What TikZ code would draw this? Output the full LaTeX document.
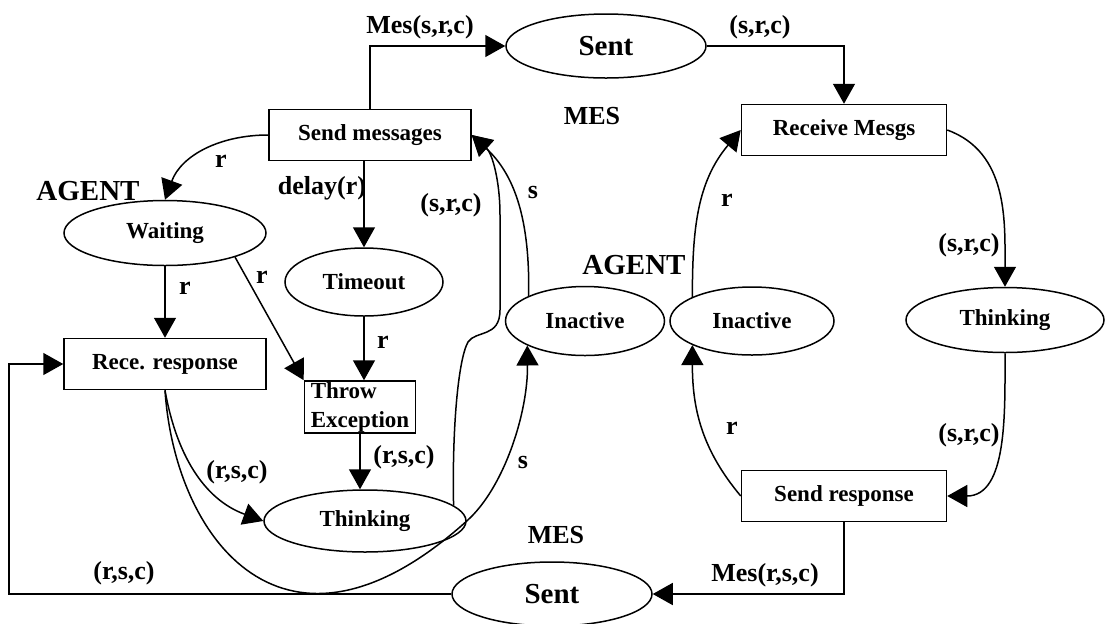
\documentclass[tikz,border=0pt]{standalone}
\usepackage{fontspec}
\setmainfont{Liberation Serif}
\usetikzlibrary{shapes.geometric,arrows.meta}

\begin{document}
\begin{tikzpicture}[x=0.5pt,y=0.5pt,line width=0.75pt,
  >={Triangle[length=10pt,width=11pt]},
  box/.style={draw,rectangle,inner sep=0pt,minimum width=101pt,minimum height=25.5pt,
    font=\fontsize{11.5}{13}\selectfont\bfseries},
  state/.style={draw,ellipse,inner sep=0pt,minimum width=101pt,minimum height=32.5pt,
    font=\fontsize{11.5}{13}\selectfont\bfseries},
  lbl/.style={inner sep=0pt,font=\fontsize{13}{15}\selectfont\bfseries},
  big/.style={inner sep=0pt,font=\fontsize{14.5}{16}\selectfont\bfseries}]
  \useasboundingbox (0,0) rectangle (1105,-623);

  % left agent
  \node[box] (sendmsg) at (370,-135) {Send messages};
  \node[state,minimum width=100pt,minimum height=32pt,font=\fontsize{14.5}{16}\selectfont\bfseries] (sentmsg) at (606,-46) {Sent};
  \node[state] (waiting) at (165,-233) {Waiting};
  \node[state,minimum width=79pt,minimum height=34pt] (timeout) at (364,-282) {Timeout};
  \node[box] (rece) at (165,-364) {Rece. response};
  \node[box,minimum width=55.5pt,minimum height=26pt,align=left,font=\fontsize{11.5}{14.5}\selectfont\bfseries] (throw) at (360,-407) {Throw\\Exception};
  \node[state,minimum height=31pt] (think1) at (365,-521) {Thinking};
  \node[state,minimum width=79.5pt,minimum height=34.5pt] (inact1) at (585,-321) {Inactive};

  % right agent
  \node[box,minimum width=102.5pt] (recvmsg) at (844,-130) {Receive Mesgs};
  \node[state,minimum width=82pt,minimum height=34pt] (inact2) at (752,-321) {Inactive};
  \node[state,minimum width=99pt] (think2) at (1005,-320) {Thinking};
  \node[box,minimum width=102.5pt] (sendresp) at (844,-496) {Send response};
  \node[state,minimum width=100pt,minimum height=32pt,font=\fontsize{14.5}{16}\selectfont\bfseries] (sentrsp) at (552,-594) {Sent};

  \node[big] (agent1) at (88,-191) {AGENT};
  \node[big] (agent2) at (634,-265) {AGENT};
  \node[lbl] (mes1) at (592,-116) {MES};
  \node[lbl] (mes2) at (556,-535) {MES};

  \coordinate (corner) at (9,-594);

  \draw[->] (sendmsg.north) |- (sentmsg.west);
  \node[lbl] at (420,-27) {Mes(s,r,c)};
  \draw[->] (sentmsg.east) -| (recvmsg.north);
  \node[lbl] at (760,-27) {(s,r,c)};
  \draw[->] (sendmsg.west) to[out=180,in=70] (waiting.north);
  \node[lbl] at (221,-161) {r};
  \draw[->] (timeout.north |- sendmsg.south) -- (timeout.north);
  \node[lbl] at (322,-188) {delay(r)};
  \draw[->] (waiting.south) -- (rece.north);
  \node[lbl] at (185,-288) {r};
  \draw[->] (waiting.-19) -- (throw.north west);
  \node[lbl] at (262,-277) {r};
  \draw[->] (timeout.south) -- (timeout.south |- throw.north);
  \node[lbl] at (383,-342) {r};
  \draw[->] (throw.south) -- (throw.south |- think1.north);
  \node[lbl] at (404,-457) {(r,s,c)};
  \draw[->] (rece.south) to[out=-80,in=160] (think1.west);
  \node[lbl] at (237,-472) {(r,s,c)};
  \draw[->] (rece.south) .. controls (175,-540) and (285,-685) .. (think1.east)
    .. controls (504,-488) and (528,-413) .. (inact1.-157);
  \node[lbl] at (523,-462) {s};
  \draw[->] (think1.10) .. controls (452,-430) and (458,-360) .. (468,-342)
    .. controls (476,-330) and (500,-338) .. (500,-310) -- (500,-215)
    .. controls (500,-180) and (492,-153) .. (sendmsg.east);
  \node[lbl] at (451,-205) {(s,r,c)};
  \draw[->] (inact1.156) .. controls (530,-220) and (515,-175) .. (sendmsg.east);
  \node[lbl] at (533,-192) {s};

  \draw[->] (inact2.158) to[out=90,in=-130] (recvmsg.west);
  \node[lbl] at (727,-200) {r};
  \draw[->] (recvmsg.east) to[out=-20,in=90] (think2.north);
  \node[lbl] at (969,-245) {(s,r,c)};
  \draw[->] (think2.south) to[out=-90,in=0] (sendresp.east);
  \node[lbl] at (969,-435) {(s,r,c)};
  \draw[->] (sendresp.west) to[out=130,in=-90] (inact2.-158);
  \node[lbl] at (732,-428) {r};
  \draw[->] (sendresp.south) |- (sentrsp.east);
  \node[lbl] at (765,-575) {Mes(r,s,c)};
  \draw[->] (sentrsp.west) -- (corner) |- (rece.west);
  \node[lbl] at (124,-573) {(r,s,c)};
\end{tikzpicture}
\end{document}
